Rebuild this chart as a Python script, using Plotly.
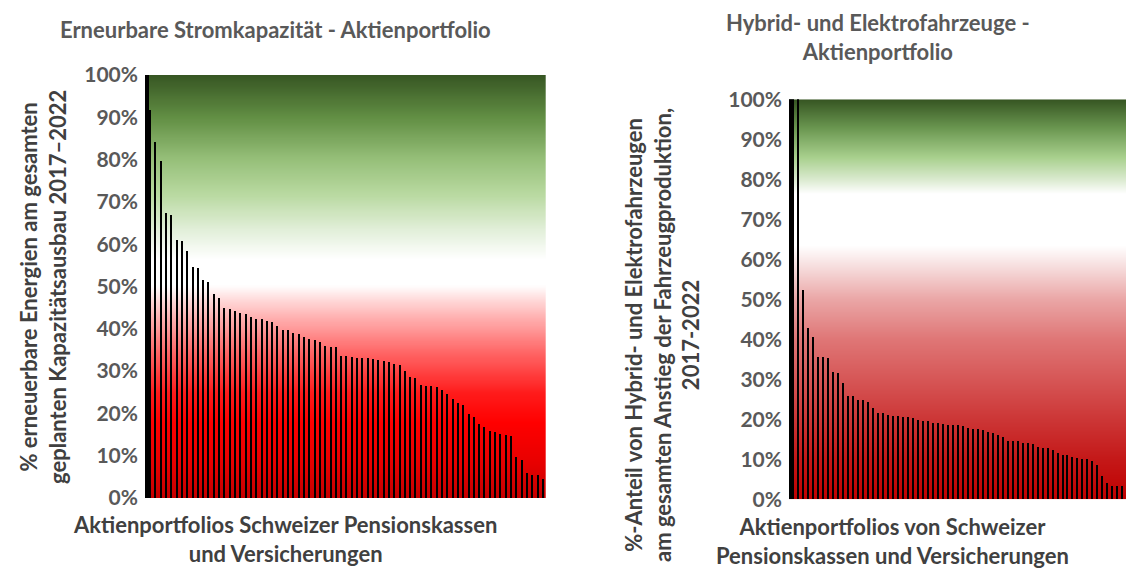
import plotly.graph_objects as go
import numpy as np

# ---------------- data ----------------
left_values = [100, 91.7, 84.2, 79.7, 67.3, 66.8, 61.0, 60.7, 58.4, 54.7,
               54.4, 51.5, 51.0, 48.2, 47.3, 45.0, 44.6, 44.2, 43.7, 43.6,
               42.9, 42.3, 42.3, 41.8, 41.5, 40.7, 39.8, 39.6, 38.9, 38.8,
               38.0, 37.5, 37.3, 36.8, 35.9, 35.8, 35.7, 33.5, 33.5, 33.4,
               33.1, 33.0, 33.0, 32.9, 32.7, 32.5, 32.2, 31.7, 31.4, 30.1,
               28.5, 28.4, 26.7, 26.4, 26.4, 26.2, 25.5, 24.6, 23.4, 22.5,
               22.1, 19.9, 19.1, 17.5, 16.8, 15.8, 15.5, 15.1, 14.9, 14.7,
               9.6, 9.1, 5.8, 5.4, 5.4, 4.4]
right_values = [100, 100, 52.3, 42.8, 40.6, 35.6, 35.6, 35.2, 31.8, 31.5,
                29.0, 25.8, 25.8, 24.8, 24.7, 24.2, 22.8, 21.6, 21.6, 21.1,
                20.8, 20.7, 20.5, 20.4, 20.3, 19.8, 19.5, 19.5, 19.1, 19.1,
                18.7, 18.5, 18.5, 18.4, 18.3, 17.8, 17.6, 17.5, 17.2, 16.8,
                16.6, 16.1, 15.4, 14.6, 14.5, 14.4, 14.1, 14.0, 13.7, 13.1,
                12.7, 12.7, 12.3, 11.6, 11.1, 11.1, 10.5, 10.2, 10.1, 9.9,
                9.6, 8.6, 5.7, 3.9, 3.3, 3.2, 3.2, 3.2, 3.2]
tick_vals = [0, 10, 20, 30, 40, 50, 60, 70, 80, 90, 100]
tick_text = [f"{v}%" for v in tick_vals]

left_title = "Erneurbare Stromkapazität - Aktienportfolio"
right_title = "Hybrid- und Elektrofahrzeuge -<br>Aktienportfolio"
left_ytitle = "% erneuerbare Energien am gesamten<br>geplanten Kapazitätsausbau 2017–2022"
right_ytitle = ("%-Anteil von Hybrid- und Elektrofahrzeugen<br>"
                "am gesamten Anstieg der Fahrzeugproduktion,<br>2017-2022")
left_xtitle = "Aktienportfolios Schweizer Pensionskassen<br>und Versicherungen"
right_xtitle = "Aktienportfolios von Schweizer<br>Pensionskassen und Versicherungen"

# ---------------- style ----------------
OFF = 8                      # page body margin
W, H = 1134 - OFF, 570 - OFF
FONT = "Lato"
GREY = "#595959"

left_scale = [
    [0.00, "#c40000"], [0.08, "#e60000"], [0.18, "#ff0000"], [0.25, "#ff1c1c"],
    [0.35, "#ff6a6a"], [0.44, "#ffbcbc"], [0.505, "#ffffff"], [0.565, "#ffffff"],
    [0.63, "#e4f0dc"], [0.72, "#b8d9a0"], [0.80, "#97c07a"], [0.90, "#628f44"],
    [1.00, "#375623"]]
right_scale = [
    [0.00, "#c00000"], [0.10, "#c41818"], [0.20, "#cc3636"], [0.30, "#d65656"],
    [0.40, "#df7676"], [0.50, "#eaa6a6"], [0.58, "#f6dcdc"], [0.635, "#ffffff"],
    [0.765, "#ffffff"], [0.80, "#dbebd0"], [0.855, "#a9d18e"], [0.93, "#6a9650"],
    [1.00, "#375623"]]

def fx(px):
    return (px - OFF) / W

def fy(py):
    return 1 - (py - OFF) / H

def px_dom_x(a, b):
    return [fx(a), min(fx(b), 1.0)]

def px_dom_y(top, bottom):
    return [fy(bottom), fy(top)]

fig = go.Figure()

panels = [
    dict(vals=left_values, xa="x", ya="y", scale=left_scale,
         xr=[0, 75.5], first_off=0.0, first_w=0.75, w=0.28),
    dict(vals=right_values, xa="x2", ya="y2", scale=right_scale,
         xr=[-0.86, 68.28], first_off=-0.86, first_w=1.0, w=0.30),
]

yy = np.arange(-1, 101.5, 0.5)
for p in panels:
    n = len(p["vals"])
    fig.add_trace(go.Heatmap(
        x=[p["xr"][0] - 1, p["xr"][1] + 1], y=yy,
        z=[[v, v] for v in yy], zmin=0, zmax=100,
        colorscale=p["scale"], showscale=False, zsmooth="best",
        hoverinfo="skip", xaxis=p["xa"], yaxis=p["ya"]))
    widths = [p["first_w"]] + [p["w"]] * (n - 1)
    offsets = [p["first_off"]] + [-p["w"] / 2] * (n - 1)
    fig.add_trace(go.Bar(
        x=list(range(n)), y=p["vals"], width=widths, offset=offsets,
        marker=dict(color="black", line=dict(width=0)),
        xaxis=p["xa"], yaxis=p["ya"], showlegend=False))

yax = dict(range=[0, 100], tickvals=tick_vals, ticktext=tick_text,
           showgrid=False, zeroline=False, showline=False, ticks="",
           automargin=False,
           tickfont=dict(family=FONT, size=21, color=GREY, weight="bold"),
           ticklabelstandoff=6)
xax = dict(showticklabels=False, showgrid=False, zeroline=False,
           showline=False, ticks="", automargin=False)

r_right = 1134
fig.update_layout(
    width=W, height=H, margin=dict(l=0, r=0, t=0, b=0, autoexpand=False),
    paper_bgcolor="white", plot_bgcolor="white", showlegend=False,
    bargap=0,
    xaxis=dict(xax, domain=px_dom_x(145, 545.7), range=panels[0]["xr"]),
    yaxis=dict(yax, domain=px_dom_y(75, 498), anchor="x"),
    xaxis2=dict(xax, domain=px_dom_x(789, r_right), range=panels[1]["xr"], anchor="y2"),
    yaxis2=dict(yax, domain=px_dom_y(99.3, 499.3), anchor="x2"),
)

def ann(text, x, y, size, color=GREY, angle=0):
    fig.add_annotation(text=text, x=fx(x), y=fy(y), xref="paper", yref="paper",
                       showarrow=False, textangle=angle, xanchor="center",
                       yanchor="middle", align="center",
                       font=dict(family=FONT, size=size, color=color, weight="bold"))

ann(left_title, 275, 30, 22)
ann(right_title, 878, 37, 22)
ann(left_ytitle, 43, 287, 22, "#404040", -90)
ann(right_ytitle, 662, 335, 22, "#404040", -90)
ann(left_xtitle, 285, 539, 22, "#404040")
ann(right_xtitle, 893, 541, 22, "#404040")

fig.write_html("out.html")
